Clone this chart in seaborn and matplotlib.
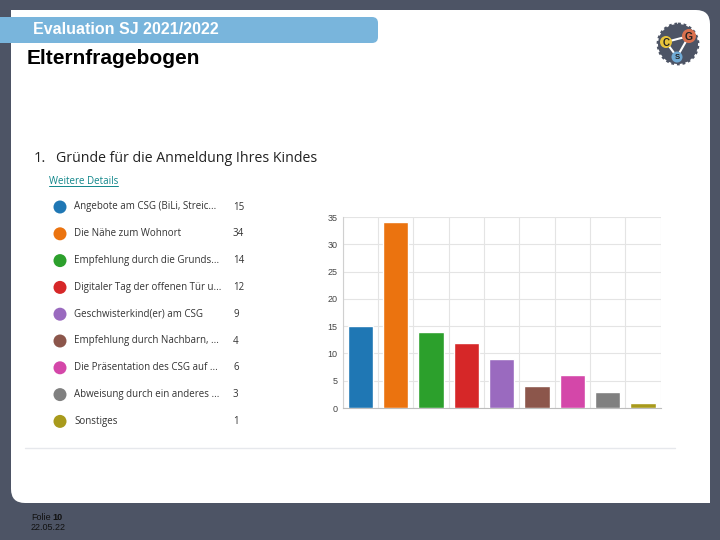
import seaborn as sns
import matplotlib.pyplot as plt
import pandas as pd
from matplotlib.patches import FancyBboxPatch, Rectangle, Circle
from matplotlib.ticker import FixedLocator

labels = [
    "Angebote am CSG (BiLi, Streic...",
    "Die Nähe zum Wohnort",
    "Empfehlung durch die Grunds...",
    "Digitaler Tag der offenen Tür u...",
    "Geschwisterkind(er) am CSG",
    "Empfehlung durch Nachbarn, ...",
    "Die Präsentation des CSG auf ...",
    "Abweisung durch ein anderes ...",
    "Sonstiges",
]
counts = [15, 34, 14, 12, 9, 4, 6, 3, 1]
y_ticks = [0, 5, 10, 15, 20, 25, 30, 35]
colors = ["#1f77b4", "#eb730f", "#2ca02c", "#d62728", "#9a6abf",
          "#8c564b", "#d447a9", "#808080", "#a89a1c"]

df = pd.DataFrame({"Grund": labels, "Anzahl": counts})

sns.set_style("white")
plt.rcParams["font.family"] = ["Liberation Sans", "DejaVu Sans"]
ui_font = ["Open Sans", "DejaVu Sans"]

fig = plt.figure(figsize=(7.2, 5.4), dpi=100)
fig.patch.set_facecolor("#4d5465")

# slide background in pixel coordinates
bg = fig.add_axes([0, 0, 1, 1], zorder=0)
bg.set_xlim(0, 720)
bg.set_ylim(540, 0)
bg.axis("off")
bg.add_patch(FancyBboxPatch((11, 10), 699, 493, boxstyle="round,pad=0,rounding_size=14",
                            fc="white", ec="none"))
bg.add_patch(Rectangle((11, 10), 40, 40, fc="white", ec="none"))
bg.add_patch(Rectangle((670, 463), 40, 40, fc="white", ec="none"))

# header banner
bg.add_patch(FancyBboxPatch((-30, 17), 408, 26, boxstyle="round,pad=0,rounding_size=6",
                            fc="#79b5dc", ec="none"))
bg.text(33, 30, "Evaluation SJ 2021/2022", color="white", fontsize=11.5,
        fontweight="bold", va="center")
bg.text(27, 59, "Elternfragebogen", color="black", fontsize=15,
        fontweight="bold", va="center")

# logo
bg.add_patch(Circle((678, 44), 20, fc="#4d5465", ec="#4d5465", lw=2, ls=(0, (1, 1))))
bg.plot([666, 689], [42, 36], color="white", lw=1.5)
bg.plot([666, 677], [42, 57], color="white", lw=1.5)
bg.plot([689, 677], [36, 57], color="white", lw=1.5)
for (cx, cy, r, c, t, fs) in [(666, 42, 6, "#e8c43c", "C", 7), (689, 36, 7, "#d9704e", "G", 7.5),
                              (677, 57, 5.5, "#6fa9d4", "S", 5.5)]:
    bg.add_patch(Circle((cx, cy), r, fc=c, ec="none", zorder=3))
    bg.text(cx, cy + 0.5, t, fontsize=fs, ha="center", va="center",
            color="#222222", zorder=4, fontweight="bold")

# question title and legend
bg.text(34, 159, "1.", fontsize=10.5, color="#222222", va="center", family=ui_font)
bg.text(56, 159, "Gründe für die Anmeldung Ihres Kindes", fontsize=10.2,
        color="#222222", va="center", family=ui_font)
bg.text(49, 181, "Weitere Details", fontsize=7, color="#10868a", va="center",
        family=ui_font)
bg.plot([49, 118], [186, 186], color="#10868a", lw=0.7)

for i, (lab, n) in enumerate(zip(labels, counts)):
    y = 207 + i * 26.8
    bg.add_patch(Circle((60, y), 6.5, fc=colors[i], ec="none"))
    bg.text(74, y, lab, fontsize=7, color="#333333", va="center", family=ui_font)
    bg.text(233, y, str(n), fontsize=7, color="#333333", va="center", family=ui_font)

bg.plot([25, 675], [448, 448], color="#e6e8ec", lw=1)

# footer
bg.text(31, 517, "Folie", fontsize=6.5, color="#111111", va="center")
bg.text(52, 517, "10", fontsize=6.5, color="#111111", va="center", fontweight="bold")
bg.text(31, 528, "22.05.22", fontsize=6.5, color="#111111", va="center")

# bar chart
ax = fig.add_axes([0.476, 0.2444, 0.4417, 0.3537], zorder=2)
sns.barplot(data=df, x="Grund", y="Anzahl", hue="Grund", palette=colors,
            legend=False, width=0.72, saturation=1, ax=ax, zorder=3)
ax.set_xlim(-0.5, 8.5)
ax.set_ylim(0, 35)
ax.set_yticks(y_ticks)
ax.set_xticks([])
ax.xaxis.set_minor_locator(FixedLocator([k + 0.5 for k in range(-1, 9)]))
ax.grid(axis="y", color="#e4e4e4", lw=0.8)
ax.grid(axis="x", which="minor", color="#e4e4e4", lw=0.8)
ax.tick_params(axis="y", labelsize=6.5, labelcolor="#444444", length=0, pad=4)
ax.tick_params(axis="x", which="minor", length=10, color="#e4e4e4", width=0.8)
ax.set_xlabel("")
ax.set_ylabel("")
for s in ["top", "right"]:
    ax.spines[s].set_visible(False)
ax.spines["left"].set_color("#d0d0d0")
ax.spines["bottom"].set_color("#bdbdbd")
ax.spines["left"].set_linewidth(0.8)
ax.spines["bottom"].set_linewidth(0.8)

fig.savefig("out.png", dpi=100)
